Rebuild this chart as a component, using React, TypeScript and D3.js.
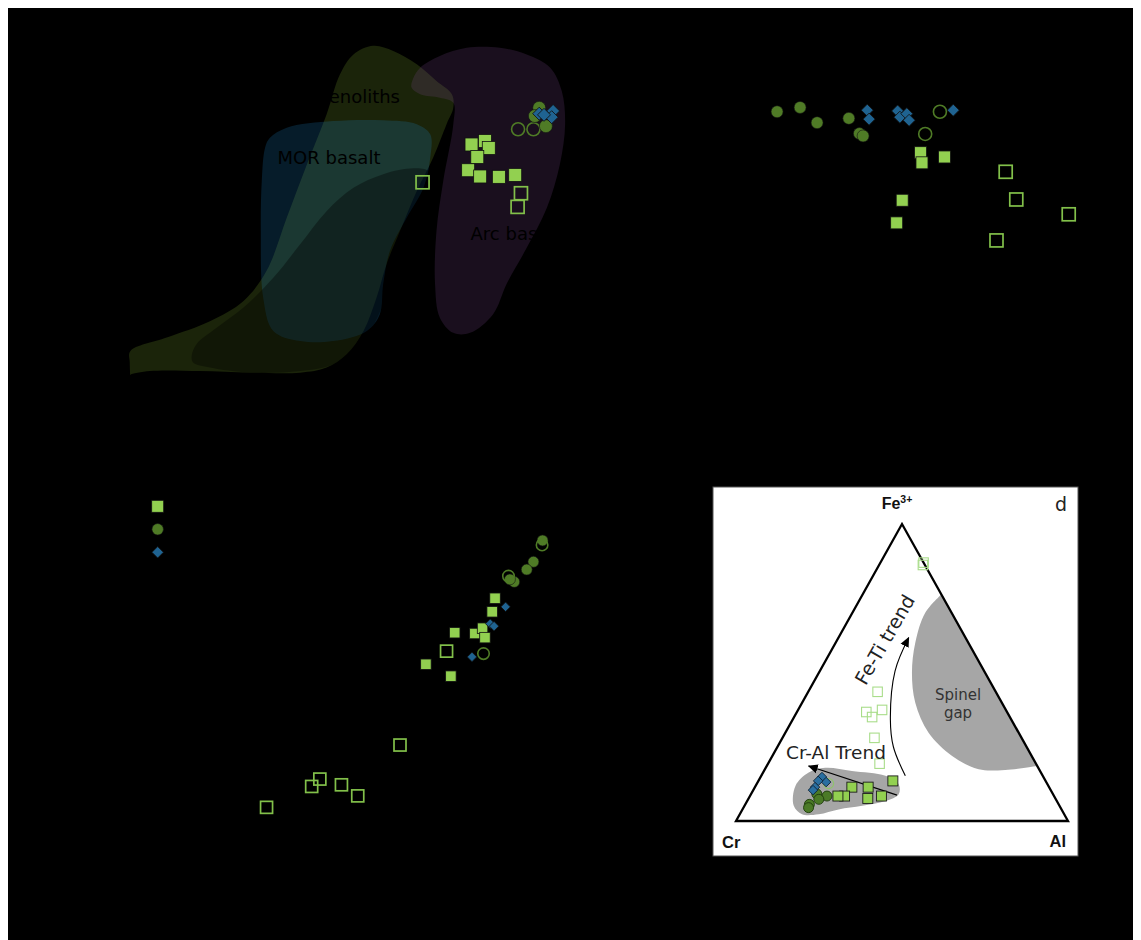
import React, { useEffect } from 'react';
import * as d3 from 'd3';

type P = [number, number];
type T = [number, number, number];

// ---------- Panel a (fields + samples), normalised axes ----------
const fieldPeridotite: P[] = [
  [0.569, 0.962], [0.611, 0.949], [0.660, 0.915], [0.701, 0.872], [0.733, 0.838], [0.736, 0.803],
  [0.722, 0.761], [0.694, 0.675], [0.660, 0.590], [0.625, 0.487], [0.597, 0.402], [0.576, 0.316],
  [0.549, 0.231], [0.514, 0.171], [0.472, 0.137], [0.417, 0.124], [0.313, 0.124], [0.208, 0.128],
  [0.104, 0.128], [0.063, 0.118], [0.063, 0.115], [0.062, 0.150], [0.063, 0.179], [0.139, 0.214],
  [0.229, 0.256], [0.299, 0.308], [0.347, 0.385], [0.389, 0.521], [0.431, 0.658], [0.472, 0.786],
  [0.500, 0.889], [0.528, 0.940],
];
const fieldInner: P[] = [
  [0.191, 0.167], [0.201, 0.197], [0.243, 0.239], [0.299, 0.291], [0.361, 0.367], [0.417, 0.453],
  [0.472, 0.538], [0.528, 0.598], [0.590, 0.633], [0.653, 0.648], [0.684, 0.641], [0.688, 0.615],
  [0.667, 0.538], [0.639, 0.453], [0.611, 0.367], [0.590, 0.299], [0.563, 0.231], [0.528, 0.179],
  [0.486, 0.145], [0.417, 0.128], [0.313, 0.124], [0.229, 0.137], [0.194, 0.150],
];
const fieldMOR: P[] = [
  [0.354, 0.726], [0.389, 0.752], [0.486, 0.769], [0.590, 0.771], [0.660, 0.761], [0.688, 0.735],
  [0.688, 0.675], [0.674, 0.598], [0.639, 0.521], [0.604, 0.436], [0.590, 0.351], [0.583, 0.274],
  [0.556, 0.231], [0.486, 0.205], [0.417, 0.205], [0.361, 0.231], [0.340, 0.316], [0.335, 0.487],
  [0.337, 0.615], [0.344, 0.701],
];
const fieldArc: P[] = [
  [0.653, 0.880], [0.667, 0.906], [0.708, 0.936], [0.764, 0.957], [0.833, 0.957], [0.889, 0.940],
  [0.938, 0.906], [0.962, 0.846], [0.969, 0.761], [0.958, 0.658], [0.931, 0.547], [0.889, 0.444],
  [0.847, 0.351], [0.819, 0.274], [0.771, 0.226], [0.736, 0.226], [0.708, 0.265], [0.698, 0.351],
  [0.701, 0.487], [0.715, 0.615], [0.736, 0.761], [0.736, 0.816], [0.708, 0.829], [0.667, 0.838],
  [0.649, 0.855],
];
const aFilledSq: P[] = [
  [0.774, 0.709], [0.802, 0.718], [0.810, 0.700], [0.786, 0.677], [0.767, 0.643],
  [0.792, 0.627], [0.831, 0.626], [0.865, 0.631],
];
const aOpenSq: P[] = [[0.672, 0.612], [0.877, 0.584], [0.870, 0.549]];
const aOpenCirc: P[] = [[0.871, 0.748], [0.903, 0.748]];
const aFilledCirc: P[] = [[0.915, 0.803], [0.929, 0.756], [0.906, 0.782]];
const aDiamond: P[] = [[0.915, 0.788], [0.944, 0.795], [0.941, 0.779], [0.925, 0.785]];
const fieldLabels = ['Peridotite xenoliths', 'MOR basalt', 'Arc basalt'];
const fieldLabelPos: P[] = [[0.625, 0.816], [0.370, 0.658], [0.772, 0.463]];
const fieldLabelAnchor = ['end', 'start', 'start'];

// ---------- Panel b ----------
const bFilledCirc: P[] = [
  [0.298, 0.793], [0.348, 0.804], [0.385, 0.765], [0.454, 0.776], [0.477, 0.737], [0.485, 0.731],
];
const bDiamond: P[] = [
  [0.494, 0.797], [0.498, 0.774], [0.560, 0.795], [0.565, 0.779], [0.580, 0.788], [0.585, 0.771],
  [0.681, 0.797],
];
const bOpenCirc: P[] = [[0.652, 0.793], [0.620, 0.736]];
const bFilledSq: P[] = [[0.610, 0.688], [0.613, 0.662], [0.662, 0.677], [0.570, 0.566], [0.558, 0.508]];
const bOpenSq: P[] = [[0.795, 0.639], [0.818, 0.568], [0.932, 0.530], [0.775, 0.463]];

// ---------- Panel c ----------
const cFilledCirc: P[] = [[0.922, 0.855], [0.903, 0.803], [0.889, 0.784], [0.863, 0.754], [0.854, 0.760]];
const cOpenCirc: P[] = [[0.921, 0.844], [0.851, 0.768], [0.799, 0.579]];
const cFilledSq: P[] = [
  [0.823, 0.714], [0.817, 0.681], [0.739, 0.630], [0.781, 0.628], [0.797, 0.641], [0.802, 0.618],
  [0.679, 0.553], [0.731, 0.524],
];
const cDiamond: P[] = [[0.845, 0.693], [0.813, 0.652], [0.821, 0.646], [0.775, 0.571]];
const cOpenSq: P[] = [
  [0.722, 0.585], [0.625, 0.356], [0.458, 0.273], [0.441, 0.255], [0.503, 0.259], [0.537, 0.232],
  [0.347, 0.204],
];
const legendKinds = ['fsq', 'fci', 'dia'];

// ---------- Panel d (ternary Cr - Al - Fe3+) ----------
const dOpenSq: T[] = [
  [0.00, 0.13, 0.87], [0.006, 0.132, 0.862], [0.356, 0.209, 0.435], [0.373, 0.253, 0.374],
  [0.424, 0.209, 0.367], [0.415, 0.235, 0.350], [0.443, 0.277, 0.280], [0.471, 0.336, 0.193],
];
const dFilledSq: T[] = [
  [0.460, 0.405, 0.135], [0.594, 0.292, 0.114], [0.545, 0.341, 0.114], [0.631, 0.285, 0.084],
  [0.651, 0.265, 0.084], [0.565, 0.359, 0.076], [0.520, 0.396, 0.084],
];
const dDiamond: T[] = [
  [0.667, 0.185, 0.148], [0.663, 0.206, 0.131], [0.685, 0.180, 0.135], [0.705, 0.181, 0.114],
  [0.716, 0.180, 0.104],
];
const dOpenCirc: T[] = [[0.658, 0.216, 0.126]];
const dFilledCirc: T[] = [
  [0.711, 0.198, 0.091], [0.684, 0.232, 0.084], [0.714, 0.213, 0.073], [0.751, 0.193, 0.056],
  [0.759, 0.196, 0.045],
];
// shapes in triangle-plane coordinates [horizontal fraction, Fe3+ fraction]
const crAlField: P[] = [
  [0.179, 0.118], [0.219, 0.163], [0.269, 0.179], [0.349, 0.168], [0.450, 0.152], [0.490, 0.124],
  [0.490, 0.090], [0.450, 0.067], [0.380, 0.051], [0.309, 0.039], [0.249, 0.023], [0.199, 0.023],
  [0.174, 0.051],
];
const spinelGap: P[] = [
  [0.6185, 0.763], [0.570, 0.701], [0.540, 0.600], [0.530, 0.499], [0.540, 0.398], [0.580, 0.297],
  [0.651, 0.219], [0.731, 0.174], [0.811, 0.172], [0.9075, 0.185],
];
const crAlArrow: P[] = [[0.485, 0.087], [0.219, 0.185]];
const feTiArrow: P[] = [[0.510, 0.152], [0.474, 0.250], [0.465, 0.342], [0.479, 0.505], [0.520, 0.617]];
const triangle: P[] = [[0, 0], [1, 0], [0.5, 1]];

// ---------- colours ----------
const C_LIGHT = '#92d050';
const C_OPEN = '#82c04a';
const C_DARK = '#4f7b26';
const C_BLUE = '#1f6391';

function mark(kind: string, x: number, y: number, s: number, key: string, opts: any = {}) {
  if (kind === 'fsq') {
    return <rect key={key} x={x - s / 2} y={y - s / 2} width={s} height={s}
      fill={opts.fill || C_LIGHT} stroke={opts.stroke || '#111'} strokeWidth={opts.sw || 0.8} />;
  }
  if (kind === 'osq') {
    return <rect key={key} x={x - s / 2} y={y - s / 2} width={s} height={s}
      fill="none" stroke={opts.stroke || C_OPEN} strokeWidth={opts.sw || 1.7} />;
  }
  if (kind === 'fci') {
    return <circle key={key} cx={x} cy={y} r={s / 2} fill={opts.fill || C_DARK}
      stroke={opts.stroke || '#111'} strokeWidth={opts.sw || 0.6} />;
  }
  if (kind === 'oci') {
    return <circle key={key} cx={x} cy={y} r={s / 2} fill="none"
      stroke={opts.stroke || C_DARK} strokeWidth={opts.sw || 1.6} />;
  }
  const h = s / Math.SQRT2;
  return <rect key={key} x={-h / 2} y={-h / 2} width={h} height={h}
    transform={`translate(${x},${y}) rotate(45)`} fill={opts.fill || C_BLUE}
    stroke={opts.stroke || '#111'} strokeWidth={opts.sw || 0.8} />;
}

export default function App() {
  useEffect(() => {
    document.documentElement.style.overflow = 'hidden';
  }, []);

  const W = 1133, H = 932;

  const xa = d3.scaleLinear().domain([0, 1]).range([100, 580]);
  const ya = d3.scaleLinear().domain([0, 1]).range([420, 30]);
  const xb = d3.scaleLinear().domain([0, 1]).range([640, 1100]);
  const yb = d3.scaleLinear().domain([0, 1]).range([420, 30]);
  const xc = d3.scaleLinear().domain([0, 1]).range([100, 580]);
  const yc = d3.scaleLinear().domain([0, 1]).range([890, 480]);
  const tx = d3.scaleLinear().domain([0, 1]).range([736, 1068]);
  const ty = d3.scaleLinear().domain([0, 1]).range([820, 523]);

  const closedA = d3.line<P>().x(d => xa(d[0])).y(d => ya(d[1])).curve(d3.curveCatmullRomClosed.alpha(0.5));
  const tern = (d: T): [number, number] => {
    const s = d[0] + d[1] + d[2];
    const al = d[1] / s, fe = d[2] / s;
    return [tx(al + fe / 2), ty(fe)];
  };
  const closedD = d3.line<P>().x(d => tx(d[0])).y(d => ty(d[1])).curve(d3.curveCatmullRomClosed.alpha(0.5));
  const openD = d3.line<P>().x(d => tx(d[0])).y(d => ty(d[1])).curve(d3.curveCatmullRom.alpha(0.5));
  const straightD = d3.line<P>().x(d => tx(d[0])).y(d => ty(d[1]));

  const pts = (arr: P[], kind: string, sx: any, sy: any, s: number, pre: string, opts: any = {}) =>
    arr.map((d, i) => mark(kind, sx(d[0]), sy(d[1]), s, pre + i, opts));
  const tpts = (arr: T[], kind: string, s: number, pre: string, opts: any = {}) =>
    arr.map((d, i) => { const [x, y] = tern(d); return mark(kind, x, y, s, pre + i, opts); });

  return (
    <svg width={W} height={H} style={{ display: 'block', background: '#000' }}
      fontFamily="'DejaVu Sans', Verdana, sans-serif">
      <defs>
        <marker id="arrowHead" viewBox="0 0 10 10" refX="9" refY="5" markerWidth="10" markerHeight="10"
          orient="auto" markerUnits="userSpaceOnUse">
          <path d="M0,0.5L10,5L0,9.5z" fill="#000" />
        </marker>
      </defs>
      <rect x={0} y={0} width={W} height={H} fill="#000" />
      <g transform="translate(-8,-7)">
        {/* ---------------- panel a ---------------- */}
        <g>
          <path d={closedA(fieldPeridotite) || ''} fill="rgb(135,180,50)" fillOpacity={0.2} />
          <path d={closedA(fieldMOR) || ''} fill="rgb(30,140,210)" fillOpacity={0.2} />
          <path d={closedA(fieldInner) || ''} fill="#000" fillOpacity={0.36} />
          <path d={closedA(fieldArc) || ''} fill="rgb(130,75,150)" fillOpacity={0.2} />
          {fieldLabels.map((t, i) => (
            <text key={t} x={xa(fieldLabelPos[i][0])} y={ya(fieldLabelPos[i][1])}
              textAnchor={fieldLabelAnchor[i] as any} fontSize={18} fill="#000">{t}</text>
          ))}
          {pts(aOpenSq, 'osq', xa, ya, 13, 'aos')}
          {pts(aFilledSq, 'fsq', xa, ya, 13, 'afs')}
          {pts(aOpenCirc, 'oci', xa, ya, 13, 'aoc')}
          {pts(aFilledCirc, 'fci', xa, ya, 13, 'afc')}
          {pts(aDiamond, 'dia', xa, ya, 13, 'ad')}
        </g>

        {/* ---------------- panel b ---------------- */}
        <g>
          {pts(bOpenSq, 'osq', xb, yb, 13, 'bos')}
          {pts(bFilledSq, 'fsq', xb, yb, 12, 'bfs')}
          {pts(bFilledCirc, 'fci', xb, yb, 12, 'bfc')}
          {pts(bOpenCirc, 'oci', xb, yb, 13, 'boc')}
          {pts(bDiamond, 'dia', xb, yb, 12, 'bd')}
        </g>

        {/* ---------------- panel c ---------------- */}
        <g>
          {legendKinds.map((k, i) => mark(k, 157.7, 505.3 + i * 23, k === 'fsq' ? 12 : 11.5, 'leg' + i))}
          {pts(cOpenSq, 'osq', xc, yc, 12, 'cos')}
          {pts(cFilledSq, 'fsq', xc, yc, 10.5, 'cfs')}
          {pts(cFilledCirc, 'fci', xc, yc, 11, 'cfc')}
          {pts(cOpenCirc, 'oci', xc, yc, 11.5, 'coc')}
          {pts(cDiamond, 'dia', xc, yc, 9.5, 'cd')}
        </g>

        {/* ---------------- panel d (ternary inset) ---------------- */}
        <g>
          <rect x={713} y={486} width={365} height={369} fill="#fff" stroke="#555" strokeWidth={1} />
          <path d={closedD(crAlField) || ''} fill="#a6a6a6" />
          <path d={(openD(spinelGap) || '') + 'Z'} fill="#a6a6a6" />
          <path d={(straightD(triangle) || '') + 'Z'} fill="none" stroke="#000" strokeWidth={2.3}
            strokeLinejoin="miter" />
          <path d={straightD(crAlArrow) || ''} fill="none" stroke="#000" strokeWidth={1.2}
            markerEnd="url(#arrowHead)" />
          <path d={openD(feTiArrow) || ''} fill="none" stroke="#000" strokeWidth={1.1}
            markerEnd="url(#arrowHead)" />
          {tpts(dOpenSq, 'osq', 9.5, 'dos', { stroke: '#a9dd8a', sw: 1.1 })}
          {tpts(dFilledSq, 'fsq', 10, 'dfs', { stroke: '#1a1a1a', sw: 0.9 })}
          {tpts(dFilledCirc, 'fci', 10, 'dfc', { fill: '#4b7a27', stroke: '#1e3a0c', sw: 0.9 })}
          {tpts(dOpenCirc, 'oci', 10, 'doc', { stroke: '#8fc46a', sw: 1.1 })}
          {tpts(dDiamond, 'dia', 9.5, 'dd', { fill: '#2a6fa0', stroke: '#10263a', sw: 0.9 })}
          <text x={786} y={757.5} fontSize={18.5} fill="#222">Cr-Al Trend</text>
          <text x={884.5} y={638.5} fontSize={19} fill="#222" textAnchor="middle"
            dominantBaseline="central" transform="rotate(-60 884.5 638.5)">Fe-Ti trend</text>
          <text x={958} y={698.5} fontSize={15} fill="#333" textAnchor="middle">Spinel</text>
          <text x={958} y={716.5} fontSize={15} fill="#333" textAnchor="middle">gap</text>
          <text x={897} y={507.5} fontSize={16} fontWeight="bold" textAnchor="middle"
            fontFamily="'Liberation Sans', Arial, sans-serif" fill="#111">
            Fe<tspan fontSize={10.5} dy={-6}>3+</tspan>
          </text>
          <text x={722} y={846.5} fontSize={16.5} fontWeight="bold"
            fontFamily="'Liberation Sans', Arial, sans-serif" fill="#111">Cr</text>
          <text x={1066} y={846} fontSize={16.5} fontWeight="bold" textAnchor="end"
            fontFamily="'Liberation Sans', Arial, sans-serif" fill="#111">Al</text>
          <text x={1055} y={510} fontSize={19} fill="#222">d</text>
        </g>
      </g>
    </svg>
  );
}
